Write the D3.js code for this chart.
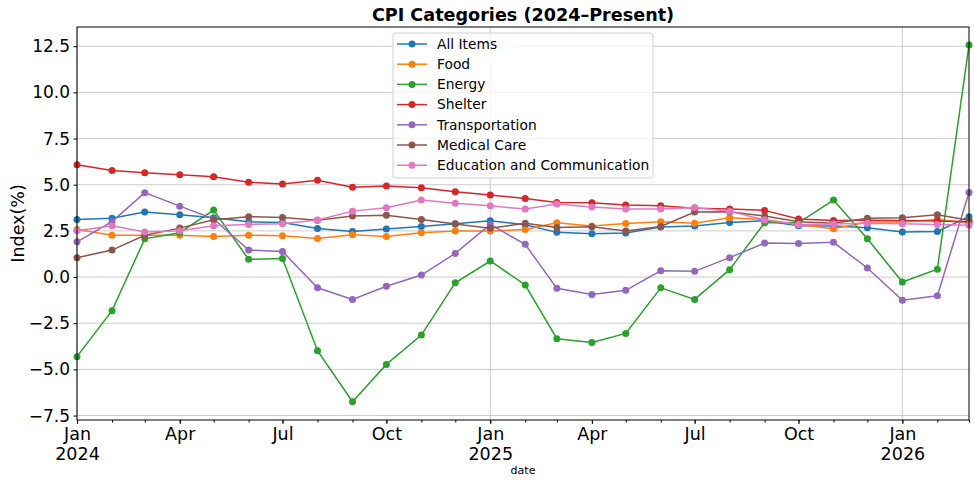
<!DOCTYPE html>
<html>
<head>
<meta charset="utf-8">
<script src="https://cdn.jsdelivr.net/npm/d3@7"></script>
<style>
  body { margin: 0; background: #fff; }
  svg text { font-family: "DejaVu Sans", sans-serif; }
</style>
</head>
<body>
<div id="chart-area"></div>
<script>
const startMonth = new Date(2024, 0, 1);
const monthCount = 27;

const seriesNames = ['All Items', 'Food', 'Energy', 'Shelter', 'Transportation', 'Medical Care', 'Education and Communication'];
const seriesColors = ['#1f77b4', '#ff7f0e', '#2ca02c', '#d62728', '#9467bd', '#8c564b', '#e377c2'];

const allItems = [3.12, 3.19, 3.52, 3.37, 3.21, 2.99, 2.96, 2.63, 2.47, 2.60, 2.74, 2.89, 3.05, 2.83, 2.42, 2.35, 2.38, 2.71, 2.76, 2.96, 3.05, 2.78, 2.76, 2.67, 2.44, 2.47, 3.27];
const food = [2.58, 2.27, 2.27, 2.27, 2.20, 2.27, 2.24, 2.09, 2.29, 2.20, 2.40, 2.49, 2.49, 2.58, 2.94, 2.76, 2.90, 3.00, 2.92, 3.21, 3.12, 2.85, 2.62, 2.98, 2.98, 3.12, 2.93];
const energy = [-4.31, -1.82, 2.07, 2.40, 3.63, 0.96, 1.01, -3.99, -6.75, -4.73, -3.14, -0.31, 0.87, -0.43, -3.34, -3.54, -3.05, -0.58, -1.21, 0.40, 2.94, 2.94, 4.17, 2.07, -0.27, 0.42, 12.56];
const shelter = [6.08, 5.77, 5.65, 5.54, 5.43, 5.14, 5.04, 5.24, 4.86, 4.93, 4.84, 4.62, 4.44, 4.26, 4.04, 4.02, 3.90, 3.86, 3.72, 3.68, 3.61, 3.14, 3.06, 3.08, 3.06, 3.04, 3.00];
const transportation = [1.91, 3.00, 4.57, 3.84, 3.15, 1.46, 1.39, -0.58, -1.21, -0.50, 0.11, 1.28, 2.85, 1.77, -0.61, -0.94, -0.72, 0.34, 0.31, 1.05, 1.84, 1.82, 1.88, 0.49, -1.26, -1.01, 4.58];
const medicalCare = [1.05, 1.46, 2.26, 2.65, 3.10, 3.27, 3.23, 3.07, 3.30, 3.34, 3.12, 2.87, 2.64, 2.91, 2.69, 2.72, 2.49, 2.74, 3.52, 3.54, 3.30, 2.99, 2.91, 3.19, 3.21, 3.37, 3.07];
const eduComm = [2.51, 2.78, 2.44, 2.51, 2.78, 2.85, 2.89, 3.09, 3.57, 3.75, 4.17, 3.99, 3.86, 3.68, 3.95, 3.79, 3.68, 3.68, 3.77, 3.56, 3.09, 2.85, 2.87, 2.91, 2.89, 2.85, 2.80];

const yTicks = [-7.5, -5.0, -2.5, 0.0, 2.5, 5.0, 7.5, 10.0, 12.5];

const chartSize = { width: 975, height: 484 };
const margin = { left: 77, right: 6, top: 27, bottom: 64 };
const width = chartSize.width - (margin.left + margin.right);
const height = chartSize.height - (margin.top + margin.bottom);

const dates = d3.range(monthCount).map(i => d3.timeMonth.offset(startMonth, i));
const allSeries = [allItems, food, energy, shelter, transportation, medicalCare, eduComm];
const series = seriesNames.map((name, k) => ({
  name,
  color: seriesColors[k],
  points: allSeries[k].map((v, i) => ({ date: dates[i], value: v }))
}));

const svg = d3.select('#chart-area').append('svg')
  .attr('width', chartSize.width)
  .attr('height', chartSize.height);

const x = d3.scaleTime()
  .domain([dates[0], dates[dates.length - 1]])
  .range([0, width]);

const y = d3.scaleLinear()
  .domain([-7.74, 13.54])
  .range([height, 0]);

const g = svg.append('g')
  .attr('transform', `translate(${margin.left},${margin.top})`);

// horizontal grid
g.append('g').selectAll('line')
  .data(yTicks)
  .join('line')
  .attr('x1', 0).attr('x2', width)
  .attr('y1', d => y(d)).attr('y2', d => y(d))
  .attr('stroke', '#b0b0b0').attr('stroke-width', 0.8).attr('opacity', 0.8);

// vertical grid on year ticks
const yearTicks = dates.filter(d => d.getMonth() === 0);
g.append('g').selectAll('line')
  .data(yearTicks)
  .join('line')
  .attr('x1', d => x(d)).attr('x2', d => x(d))
  .attr('y1', 0).attr('y2', height)
  .attr('stroke', '#b0b0b0').attr('stroke-width', 0.8).attr('opacity', 0.8);

// y axis
const yAxis = d3.axisLeft(y)
  .tickValues(yTicks)
  .tickFormat(d3.format('.1f'))
  .tickSize(3.5)
  .tickPadding(3.5);
g.append('g').attr('class', 'y axis').call(yAxis)
  .call(s => s.select('.domain').remove())
  .call(s => s.selectAll('text').attr('font-size', 17).attr('fill', '#000'));

// x axis: minor month ticks, labelled quarters
const xMinor = d3.axisBottom(x)
  .tickValues(dates)
  .tickFormat('')
  .tickSize(2.5);
g.append('g').attr('transform', `translate(0,${height})`).call(xMinor)
  .call(s => s.select('.domain').remove());

const quarterTicks = dates.filter(d => d.getMonth() % 3 === 0);
const xAxis = d3.axisBottom(x)
  .tickValues(quarterTicks)
  .tickFormat('')
  .tickSize(4);
const xg = g.append('g').attr('class', 'x axis').attr('transform', `translate(0,${height})`).call(xAxis);
xg.select('.domain').remove();
xg.selectAll('.tick').append('text')
  .attr('y', 20)
  .attr('text-anchor', 'middle')
  .attr('font-size', 17.5)
  .attr('fill', '#000')
  .text(d => d3.timeFormat('%b')(d));
xg.selectAll('.tick').filter(d => d.getMonth() === 0).append('text')
  .attr('y', 40)
  .attr('text-anchor', 'middle')
  .attr('font-size', 17.5)
  .attr('fill', '#000')
  .text(d => d.getFullYear());

// lines
const line = d3.line()
  .x(d => x(d.date))
  .y(d => y(d.value));

const seriesG = g.append('g').selectAll('g')
  .data(series)
  .join('g');

seriesG.append('path')
  .attr('d', s => line(s.points))
  .attr('fill', 'none')
  .attr('stroke', s => s.color)
  .attr('stroke-width', 1.5);

seriesG.selectAll('circle')
  .data(s => s.points.map(p => ({ ...p, color: s.color })))
  .join('circle')
  .attr('cx', d => x(d.date))
  .attr('cy', d => y(d.value))
  .attr('r', 3.5)
  .attr('fill', d => d.color);

// frame
g.append('rect')
  .attr('width', width).attr('height', height)
  .attr('fill', 'none').attr('stroke', '#000').attr('stroke-width', 1);

// labels
svg.append('text')
  .attr('x', margin.left + width / 2)
  .attr('y', 21)
  .attr('text-anchor', 'middle')
  .attr('font-size', 17.6)
  .attr('font-weight', 'bold')
  .text('CPI Categories (2024–Present)');

svg.append('text')
  .attr('transform', `translate(24,${margin.top + height / 2}) rotate(-90)`)
  .attr('text-anchor', 'middle')
  .attr('font-size', 17.5)
  .text('Index(%)');

svg.append('text')
  .attr('x', margin.left + width / 2)
  .attr('y', 474)
  .attr('text-anchor', 'middle')
  .attr('font-size', 11)
  .text('date');

// legend
const legend = svg.append('g').attr('transform', 'translate(393,33)');
legend.append('rect')
  .attr('width', 260).attr('height', 145).attr('rx', 3)
  .attr('fill', '#fff').attr('fill-opacity', 0.8)
  .attr('stroke', '#d0d0d0');

const items = legend.selectAll('.item')
  .data(series)
  .join('g')
  .attr('class', 'item')
  .attr('transform', (s, i) => `translate(0,${11 + i * 20.2})`);
items.append('line')
  .attr('x1', 4).attr('x2', 34)
  .attr('stroke', s => s.color).attr('stroke-width', 1.5);
items.append('circle')
  .attr('cx', 19).attr('r', 3.5).attr('fill', s => s.color);
items.append('text')
  .attr('x', 44).attr('dy', '0.35em')
  .attr('font-size', 13.8)
  .text(s => s.name);
</script>
</body>
</html>
